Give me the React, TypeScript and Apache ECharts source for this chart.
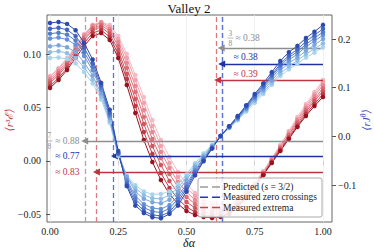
import React, { useEffect, useRef } from 'react';
import * as echarts from 'echarts';

const X = [0, 0.03125, 0.0625, 0.09375, 0.125, 0.15625, 0.1875, 0.21875, 0.25, 0.28125, 0.3125, 0.34375, 0.375, 0.40625, 0.4375, 0.46875, 0.5, 0.53125, 0.5625, 0.59375, 0.625, 0.65625, 0.6875, 0.71875, 0.75, 0.78125, 0.8125, 0.84375, 0.875, 0.90625, 0.9375, 0.96875, 1];

// <r^3 E> (left axis), light -> dark
const R0 = [0.0794,0.0869,0.0963,0.1075,0.1187,0.1271,0.1299,0.1271,0.1168,0.1000,0.0804,0.0598,0.0383,0.0196,0.0037,-0.0103,-0.0215,-0.0300,-0.0356,-0.0393,-0.0412,-0.0402,-0.0365,-0.0300,-0.0206,-0.0094,0.0028,0.0149,0.0280,0.0411,0.0533,0.0645,0.0757];
const R1 = [0.0785,0.0860,0.0953,0.1066,0.1178,0.1271,0.1299,0.1253,0.1140,0.0963,0.0757,0.0542,0.0327,0.0140,-0.0019,-0.0150,-0.0253,-0.0328,-0.0384,-0.0421,-0.0430,-0.0421,-0.0374,-0.0309,-0.0215,-0.0103,0.0018,0.0140,0.0271,0.0392,0.0514,0.0626,0.0738];
const R2 = [0.0766,0.0841,0.0935,0.1056,0.1168,0.1262,0.1290,0.1234,0.1112,0.0916,0.0701,0.0477,0.0271,0.0084,-0.0066,-0.0197,-0.0290,-0.0365,-0.0412,-0.0440,-0.0449,-0.0430,-0.0384,-0.0318,-0.0225,-0.0113,0.0009,0.0131,0.0252,0.0383,0.0495,0.0607,0.0710];
const R3 = [0.0748,0.0822,0.0916,0.1038,0.1150,0.1243,0.1271,0.1215,0.1075,0.0869,0.0645,0.0411,0.0205,0.0028,-0.0122,-0.0243,-0.0337,-0.0402,-0.0449,-0.0468,-0.0468,-0.0449,-0.0402,-0.0328,-0.0234,-0.0122,0.0000,0.0121,0.0243,0.0364,0.0477,0.0579,0.0682];
const R4 = [0.0729,0.0804,0.0897,0.1009,0.1131,0.1225,0.1253,0.1187,0.1038,0.0813,0.0579,0.0346,0.0140,-0.0038,-0.0187,-0.0300,-0.0384,-0.0440,-0.0477,-0.0496,-0.0496,-0.0468,-0.0412,-0.0337,-0.0234,-0.0122,-0.0010,0.0112,0.0224,0.0346,0.0458,0.0561,0.0654];
const R5 = [0.0701,0.0776,0.0869,0.0991,0.1103,0.1196,0.1225,0.1159,0.1000,0.0766,0.0514,0.0271,0.0066,-0.0113,-0.0253,-0.0356,-0.0430,-0.0477,-0.0505,-0.0515,-0.0515,-0.0487,-0.0421,-0.0346,-0.0243,-0.0131,-0.0010,0.0103,0.0215,0.0327,0.0439,0.0533,0.0626];
const R6 = [0.0682,0.0757,0.0851,0.0963,0.1075,0.1168,0.1196,0.1131,0.0963,0.0710,0.0449,0.0196,-0.0010,-0.0178,-0.0309,-0.0402,-0.0468,-0.0505,-0.0524,-0.0533,-0.0524,-0.0496,-0.0430,-0.0346,-0.0243,-0.0131,-0.0019,0.0093,0.0205,0.0318,0.0421,0.0514,0.0598];

// <r J^theta> (right axis), light -> dark
const B0 = [0.161,0.162,0.159,0.150,0.132,0.109,0.076,0.028,-0.040,-0.080,-0.100,-0.113,-0.119,-0.118,-0.113,-0.098,-0.078,-0.055,-0.035,-0.017,0.001,0.017,0.033,0.051,0.069,0.087,0.106,0.124,0.138,0.149,0.162,0.172,0.183];
const B1 = [0.173,0.175,0.171,0.161,0.142,0.117,0.082,0.032,-0.038,-0.082,-0.106,-0.120,-0.127,-0.128,-0.121,-0.105,-0.084,-0.059,-0.039,-0.019,0.001,0.018,0.035,0.054,0.073,0.091,0.110,0.129,0.144,0.156,0.169,0.180,0.191];
const B2 = [0.185,0.187,0.183,0.173,0.152,0.125,0.088,0.038,-0.034,-0.083,-0.113,-0.128,-0.135,-0.137,-0.130,-0.113,-0.090,-0.063,-0.041,-0.020,0.001,0.019,0.036,0.056,0.076,0.095,0.115,0.135,0.151,0.162,0.176,0.188,0.200];
const B3 = [0.201,0.203,0.199,0.188,0.165,0.136,0.095,0.042,-0.036,-0.089,-0.122,-0.139,-0.147,-0.149,-0.141,-0.122,-0.098,-0.069,-0.044,-0.022,0.001,0.019,0.038,0.058,0.079,0.099,0.120,0.141,0.157,0.169,0.184,0.196,0.208];
const B4 = [0.211,0.213,0.209,0.197,0.173,0.143,0.100,0.045,-0.035,-0.093,-0.128,-0.146,-0.154,-0.156,-0.148,-0.128,-0.103,-0.072,-0.046,-0.023,0.001,0.020,0.039,0.060,0.081,0.102,0.124,0.145,0.162,0.174,0.189,0.202,0.214];
const B5 = [0.221,0.223,0.219,0.206,0.182,0.150,0.105,0.049,-0.034,-0.098,-0.135,-0.153,-0.161,-0.163,-0.155,-0.135,-0.107,-0.076,-0.049,-0.024,0.001,0.021,0.040,0.062,0.084,0.105,0.127,0.149,0.166,0.179,0.195,0.208,0.221];
const B6 = [0.233,0.235,0.231,0.218,0.192,0.158,0.110,0.055,-0.030,-0.102,-0.142,-0.157,-0.166,-0.168,-0.159,-0.142,-0.113,-0.080,-0.051,-0.025,0.001,0.021,0.042,0.064,0.087,0.109,0.132,0.155,0.173,0.186,0.202,0.215,0.229];

const RED = [R0, R1, R2, R3, R4, R5, R6];
const BLUE = [B0, B1, B2, B3, B4, B5, B6];
const RED_COLORS = ['#f6bac5', '#f0a2ad', '#e78892', '#dc6e76', '#cf565f', '#bb3a45', '#981320'];
const BLUE_COLORS = ['#a8d4ec', '#90bee6', '#7aa7de', '#6791d6', '#547ccc', '#4166c0', '#2c4bb0'];

const X_TICKS = [0, 0.25, 0.5, 0.75, 1];
const LEFT_TICKS = [-0.05, 0, 0.05, 0.1];
const RIGHT_TICKS = [-0.1, 0, 0.1, 0.2];

const PRED_X = [0.125, 0.625];
const EXT_X = [0.168, 0.612];
const ZERO_X = [0.234, 0.626];

// arrows: [startX, y, endX] on left axis
const ARROWS_RIGHT = [[1.0, 0.1056, 0.627], [1.0, 0.0907, 0.629], [1.0, 0.0757, 0.614]];
const ARROWS_LEFT = [[1.0, 0.0187, 0.127], [1.0, 0.0046, 0.236], [1.0, -0.0103, 0.17]];
const RIGHT_LABELS = ['≈ 0.38', '≈ 0.38', '≈ 0.39'];
const LEFT_LABELS = ['≈ 0.88', '≈ 0.77', '≈ 0.83'];
const FRAC_RIGHT = ['3', '8'];
const FRAC_LEFT = ['7', '8'];

const GREY = '#8e8e8e';
const NAVY = '#1f30a6';
const CRIMSON = '#c1343e';
const SERIF = '"Liberation Serif", "DejaVu Serif", "Times New Roman", serif';

const fmtMinus = (s: string) => s.replace('-', '\u2212');

export default function App() {
  const ref = useRef<HTMLDivElement>(null);
  useEffect(() => {
    const chart = echarts.init(ref.current!, null, { renderer: 'svg' });
    const redSeries = RED.map((d, i) => ({
      type: 'line', yAxisIndex: 0, z: 2, silent: true,
      data: X.map((x, k) => [x, d[k]]),
      symbol: 'circle', symbolSize: 4.5, showSymbol: true,
      lineStyle: { width: 1, color: RED_COLORS[i] },
      itemStyle: { color: RED_COLORS[i], borderWidth: 0 },
    }));
    const blueSeries = BLUE.map((d, i) => ({
      type: 'line', yAxisIndex: 1, z: 4, silent: true,
      data: X.map((x, k) => [x, d[k]]),
      symbol: 'circle', symbolSize: 4.5, showSymbol: true,
      lineStyle: { width: 1, color: BLUE_COLORS[i] },
      itemStyle: { color: BLUE_COLORS[i], borderWidth: 0 },
    }));
    const vline = (x: number, color: string) => ({ xAxis: x, lineStyle: { color, type: [5, 3], width: 1.3 } });
    const arrow = (a: number[], color: string) => [
      { coord: [a[0], a[1]], lineStyle: { color, width: 1.3, type: 'solid' } },
      { coord: [a[2], a[1]] },
    ];
    const axisLabelStyle = { fontFamily: SERIF, fontSize: 10, color: '#222' };
    chart.setOption({
      animation: false,
      grid: { left: 47, right: 42, top: 15, bottom: 27, show: true, borderColor: '#666', borderWidth: 1, backgroundColor: 'transparent' },
      xAxis: {
        type: 'value', min: -0.011, max: 1.033,
        axisLine: { show: false },
        splitLine: { show: false },
        axisTick: { show: true, length: 4, inside: false, customValues: X_TICKS, lineStyle: { color: '#555' } },
        axisLabel: { ...axisLabelStyle, margin: 4, customValues: X_TICKS, formatter: (v: number) => v.toFixed(2) },
      },
      yAxis: [
        {
          type: 'value', position: 'left', min: -0.0571, max: 0.1365,
          axisLine: { show: false }, splitLine: { show: false },
          axisTick: { show: true, length: 4, inside: false, customValues: LEFT_TICKS, lineStyle: { color: '#555' } },
          axisLabel: { ...axisLabelStyle, margin: 6, customValues: LEFT_TICKS, formatter: (v: number) => fmtMinus(v.toFixed(2)) },
        },
        {
          type: 'value', position: 'right', min: -0.1756, max: 0.2493,
          axisLine: { show: false }, splitLine: { show: false },
          axisTick: { show: true, length: 4, inside: false, customValues: RIGHT_TICKS, lineStyle: { color: '#555' } },
          axisLabel: { ...axisLabelStyle, margin: 6, customValues: RIGHT_TICKS, formatter: (v: number) => fmtMinus(v.toFixed(1)) },
        },
      ],
      series: [
        {
          type: 'line', yAxisIndex: 0, data: [], silent: true,
          markLine: {
            silent: true, z: 1, symbol: ['none', 'none'], label: { show: false }, animation: false,
            data: X_TICKS.map((x) => ({ xAxis: x, lineStyle: { color: '#ececec', width: 0.8, type: 'solid' } })),
          },
        },
        ...redSeries,
        {
          type: 'line', yAxisIndex: 0, data: [], silent: true,
          markLine: {
            silent: true, z: 3, symbol: ['none', 'none'], label: { show: false }, animation: false,
            data: [
              vline(PRED_X[0], '#a8a8a8'), vline(PRED_X[1], '#a8a8a8'),
              vline(EXT_X[0], '#dc7a80'), vline(EXT_X[1], '#dc7a80'),
              vline(ZERO_X[0], '#5f72d4'), vline(ZERO_X[1], '#5f72d4'),
            ],
          },
        },
        {
          type: 'line', yAxisIndex: 0, data: [], silent: true,
          markLine: {
            silent: true, z: 3, symbol: ['none', 'triangle'], symbolSize: 7, label: { show: false }, animation: false,
            data: [
              arrow(ARROWS_RIGHT[0], GREY), arrow(ARROWS_RIGHT[1], NAVY), arrow(ARROWS_RIGHT[2], CRIMSON),
              arrow(ARROWS_LEFT[0], GREY), arrow(ARROWS_LEFT[1], NAVY), arrow(ARROWS_LEFT[2], CRIMSON),
            ],
          },
        },
        ...blueSeries,
      ],
    });

    const px = (x: number, y: number) => chart.convertToPixel({ xAxisIndex: 0, yAxisIndex: 0 } as any, [x, y]) as number[];
    const t = (x: number, y: number, text: string, color: string, size: number, align: string, extra: any = {}) => ({
      type: 'text', x, y, z: 50, silent: true,
      style: { text, fill: color, fontFamily: SERIF, fontSize: size, align, verticalAlign: 'middle', textAlign: align, textVerticalAlign: 'middle', ...extra },
    });
    const colors = [GREY, NAVY, CRIMSON];
    const g: any[] = [];
    // right-side labels
    const rx = px(0.672, 0)[0];
    ARROWS_RIGHT.forEach((a, i) => {
      const ay = px(a[0], a[1])[1];
      if (i === 0) {
        const fx = rx - 3;
        const ty = ay - 10;
        g.push(t(fx, ty - 5, FRAC_RIGHT[0], colors[i], 7.5, 'center'));
        g.push({ type: 'line', z: 50, silent: true, shape: { x1: fx - 3, y1: ty, x2: fx + 3, y2: ty }, style: { stroke: colors[i], lineWidth: 0.6 } });
        g.push(t(fx, ty + 5.5, FRAC_RIGHT[1], colors[i], 7.5, 'center'));
        g.push(t(fx + 5, ty, RIGHT_LABELS[i], colors[i], 9.5, 'left'));
      } else {
        g.push(t(rx, ay - 6.5, RIGHT_LABELS[i], colors[i], 9.5, 'left'));
      }
    });
    // left-side labels
    const lx = px(0.108, 0)[0];
    ARROWS_LEFT.forEach((a, i) => {
      const ay = px(a[0], a[1])[1];
      g.push(t(lx, ay, LEFT_LABELS[i], colors[i], 9.5, 'right'));
      if (i === 0) {
        const fx = px(-0.002, 0)[0];
        g.push(t(fx, ay - 5, FRAC_LEFT[0], colors[i], 7.5, 'center'));
        g.push({ type: 'line', z: 50, silent: true, shape: { x1: fx - 3, y1: ay, x2: fx + 3, y2: ay }, style: { stroke: colors[i], lineWidth: 0.6 } });
        g.push(t(fx, ay + 5.5, FRAC_LEFT[1], colors[i], 7.5, 'center'));
      }
    });
    // title & axis names
    g.push(t(189, 8, 'Valley 2', '#111', 13, 'center'));
    g.push(t(189, 242.5, 'δα', '#111', 12, 'center', { fontStyle: 'italic' }));
    g.push({
      type: 'text', x: 9, y: 120, rotation: Math.PI / 2, z: 50, silent: true,
      style: { text: '⟨r³ℰ⟩', fill: CRIMSON, fontFamily: SERIF, fontSize: 11, fontStyle: 'italic', align: 'center', verticalAlign: 'middle', textAlign: 'center', textVerticalAlign: 'middle' },
    });
    g.push({
      type: 'text', x: 366, y: 120, rotation: Math.PI / 2, z: 50, silent: true,
      style: {
        text: '{a|⟨rJ}{s|θ}{a|⟩}', fill: '#3348c0', align: 'center', verticalAlign: 'middle', textAlign: 'center', textVerticalAlign: 'middle',
        rich: {
          a: { fontFamily: SERIF, fontSize: 11, fontStyle: 'italic', fill: '#3348c0', color: '#3348c0', lineHeight: 13 },
          s: { fontFamily: SERIF, fontSize: 7.5, fontStyle: 'italic', fill: '#3348c0', color: '#3348c0', verticalAlign: 'top', lineHeight: 13 },
        },
      },
    });
    // legend
    const LX = 198, LY = 178;
    g.push({ type: 'rect', z: 60, silent: true, shape: { x: LX, y: LY, width: 124, height: 39, r: 2 }, style: { fill: 'rgba(255,255,255,0.85)', stroke: '#aaa', lineWidth: 1 } });
    const legendItems = [
      ['#9a9a9a', '{n|Predicted (}{i|s}{n| = 3/2)}'],
      ['#2637ad', '{n|Measured zero crossings}'],
      ['#c8434c', '{n|Measured extrema}'],
    ];
    legendItems.forEach(([c, txt], i) => {
      const yy = LY + 9 + i * 10.3;
      g.push({ type: 'line', z: 61, silent: true, shape: { x1: LX + 2, y1: yy, x2: LX + 22, y2: yy }, style: { stroke: c, lineWidth: 1.5, lineDash: [8, 4] } });
      g.push({
        type: 'text', x: LX + 25, y: yy, z: 61, silent: true,
        style: {
          text: txt, fill: '#222', align: 'left', verticalAlign: 'middle', textAlign: 'left', textVerticalAlign: 'middle',
          rich: {
            n: { fontFamily: SERIF, fontSize: 9.5, fill: '#222', color: '#222' },
            i: { fontFamily: SERIF, fontSize: 9.5, fontStyle: 'italic', fill: '#222', color: '#222' },
          },
        },
      });
    });
    chart.setOption({ graphic: g });
    return () => chart.dispose();
  }, []);
  return <div ref={ref} style={{ position: 'absolute', left: 0, top: 0, width: 374, height: 249 }} />;
}
